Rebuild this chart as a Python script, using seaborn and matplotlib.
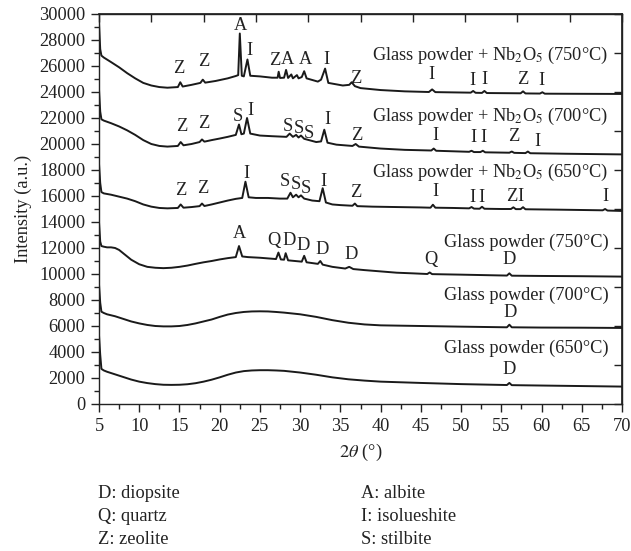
import numpy as np
import pandas as pd
import matplotlib
matplotlib.use("Agg")
import matplotlib.pyplot as plt
from matplotlib.ticker import MultipleLocator
import seaborn as sns

# ---------------- data ----------------
series_names = [
    "Glass powder + Nb$_2$O$_5$ (750°C)",
    "Glass powder + Nb$_2$O$_5$ (700°C)",
    "Glass powder + Nb$_2$O$_5$ (650°C)",
    "Glass powder (750°C)",
    "Glass powder (700°C)",
    "Glass powder (650°C)",
]

tt_nb750 = [5.0, 5.15, 5.3, 5.6, 6.5, 7.5, 8.5, 9.5, 10.5, 11.5, 12.5, 13.5, 14.8, 15.1, 15.4,
            16.5, 17.6, 17.9, 18.2, 19.5, 21.0, 22.0, 22.3, 22.5, 22.75, 23.0, 23.45, 23.8, 25.0,
            26.5, 27.2, 27.33, 27.5, 28.0, 28.25, 28.5, 28.9, 29.1, 29.6, 29.8, 30.2, 30.5, 30.8,
            32.2, 32.6, 33.1, 33.5, 35.3, 36.1, 36.4, 36.8, 37.5, 40.0, 43.0, 46.0, 46.4, 46.8,
            51.2, 51.5, 51.8, 52.6, 52.9, 53.2, 57.4, 57.7, 58.0, 59.8, 60.1, 60.4, 65.0, 70.0]
I_nb750 = [29300, 27300, 26800, 26650, 26300, 25900, 25450, 25050, 24700, 24500, 24380, 24330, 24380, 24750, 24420,
           24550, 24700, 24950, 24720, 24850, 25050, 25230, 25300, 28500, 25250, 25200, 26500, 25250, 25200,
           25100, 25100, 25560, 25080, 25100, 25700, 25080, 25350, 25050, 25300, 25050, 25150, 25600, 25050,
           24800, 24950, 25800, 24700, 24500, 24550, 24750, 24450, 24300, 24150, 24050, 24000, 24200, 23990,
           23950, 24080, 23940, 23930, 24080, 23920, 23900, 24050, 23890, 23880, 23980, 23870, 23860, 23850]

tt_nb700 = [5.0, 5.15, 5.3, 5.6, 6.5, 7.5, 8.5, 9.5, 10.5, 11.5, 12.5, 13.5, 14.8, 15.15, 15.5,
            16.5, 17.5, 17.8, 18.1, 19.0, 20.0, 21.0, 22.0, 22.4, 22.7, 23.0, 23.4, 23.8, 25.0,
            26.5, 28.3, 28.7, 29.1, 29.5, 29.8, 30.1, 30.5, 32.0, 32.6, 33.0, 33.4, 34.5, 36.5,
            36.9, 37.3, 40.0, 43.0, 46.3, 46.6, 46.9, 51.0, 51.3, 51.6, 52.4, 52.7, 53.0, 56.0,
            56.3, 56.6, 58.0, 58.3, 58.6, 63.0, 70.0]
I_nb700 = [24200, 22500, 21900, 21800, 21600, 21350, 21050, 20700, 20300, 20000, 19850, 19800, 19850, 20150, 19900,
           20000, 20150, 20350, 20180, 20300, 20420, 20550, 20700, 21500, 20750, 20800, 22000, 20800, 20650,
           20600, 20550, 20800, 20550, 20700, 20500, 20650, 20400, 20150, 20200, 21100, 20100, 19950, 19850,
           20000, 19800, 19650, 19550, 19500, 19650, 19480, 19400, 19480, 19380, 19380, 19480, 19360, 19330,
           19420, 19320, 19300, 19420, 19290, 19250, 19200]

tt_nb650 = [5.0, 5.15, 5.3, 5.6, 6.5, 7.5, 8.5, 9.5, 10.5, 11.5, 12.5, 13.5, 14.8, 15.15, 15.5,
            16.5, 17.5, 17.8, 18.1, 19.0, 20.0, 21.0, 22.0, 22.8, 23.2, 23.6, 24.5, 26.0, 27.5,
            28.4, 28.8, 29.1, 29.5, 29.8, 30.1, 30.5, 31.5, 32.4, 32.8, 33.2, 34.0, 35.0, 36.5,
            36.8, 37.1, 39.0, 42.0, 45.0, 46.2, 46.5, 46.8, 49.0, 51.0, 51.3, 51.6, 52.3, 52.6,
            52.9, 55.0, 56.2, 56.5, 56.8, 57.4, 57.7, 58.0, 62.0, 67.6, 67.9, 68.2, 70.0]
I_nb650 = [18500, 17000, 16300, 16200, 16100, 15950, 15800, 15600, 15350, 15180, 15080, 15050, 15080, 15350, 15100,
           15150, 15220, 15420, 15230, 15350, 15500, 15650, 15780, 15850, 17100, 15900, 15850, 15850, 15800,
           15800, 16250, 15900, 16100, 15900, 16050, 15800, 15650, 15600, 16600, 15500, 15350, 15300, 15250,
           15420, 15220, 15180, 15150, 15120, 15100, 15330, 15100, 15080, 15050, 15150, 15030, 15020, 15170,
           15020, 15000, 15000, 15130, 14990, 14990, 15140, 14980, 14950, 14900, 15000, 14880, 14850]

tt_g750 = [5.0, 5.15, 5.3, 5.6, 6.0, 6.5, 7.0, 7.5, 8.0, 9.0, 10.0, 11.0, 12.0, 13.0, 14.0,
           15.0, 16.0, 17.0, 18.0, 19.0, 20.0, 21.0, 22.0, 22.4, 22.8, 23.5, 25.0, 26.0, 27.0,
           27.3, 27.6, 28.0, 28.2, 28.5, 30.2, 30.5, 30.8, 32.2, 32.5, 32.8, 34.0, 35.6, 36.1,
           36.6, 38.0, 40.0, 42.0, 44.0, 45.8, 46.1, 46.4, 50.0, 54.0, 55.7, 56.0, 56.3, 60.0,
           65.0, 70.0]
I_g750 = [14000, 12500, 12150, 12100, 12050, 12050, 12000, 11850, 11600, 11100, 10750, 10550, 10480, 10450, 10480,
          10550, 10650, 10780, 10900, 11000, 11120, 11220, 11300, 12150, 11350, 11300, 11250, 11200, 11150,
          11650, 11120, 11100, 11600, 11050, 10950, 11400, 10900, 10780, 11000, 10720, 10550, 10420, 10550,
          10380, 10300, 10200, 10100, 10050, 10000, 10120, 9990, 9950, 9900, 9880, 10050, 9870, 9850,
          9830, 9800]

tt_g700 = [5.0, 5.15, 5.3, 5.6, 6.0, 7.0, 8.0, 9.0, 10.0, 11.0, 12.0, 13.0, 14.0, 15.0, 16.0,
           17.0, 18.0, 19.0, 20.0, 21.0, 22.0, 23.0, 24.0, 25.0, 26.0, 27.0, 28.0, 30.0, 32.0,
           34.0, 36.0, 38.0, 40.0, 45.0, 50.0, 55.7, 56.0, 56.3, 60.0, 65.0, 70.0]
I_g700 = [9200, 7800, 7100, 7000, 6900, 6750, 6550, 6350, 6200, 6080, 6000, 5970, 5970, 6000, 6080,
          6200, 6350, 6500, 6700, 6880, 7000, 7080, 7120, 7130, 7120, 7080, 7030, 6900, 6700,
          6450, 6250, 6120, 6050, 6000, 5950, 5900, 6100, 5900, 5880, 5870, 5850]

tt_g650 = [5.0, 5.15, 5.3, 5.6, 6.0, 7.0, 8.0, 9.0, 10.0, 11.0, 12.0, 13.0, 14.0, 15.0, 16.0,
           17.0, 18.0, 19.0, 20.0, 21.0, 22.0, 23.0, 24.0, 25.0, 26.0, 27.0, 28.0, 30.0, 32.0,
           34.0, 36.0, 38.0, 40.0, 45.0, 50.0, 55.7, 56.0, 56.3, 60.0, 65.0, 70.0]
I_g650 = [5300, 3800, 2700, 2580, 2480, 2280, 2080, 1880, 1720, 1610, 1530, 1480, 1470, 1480, 1520,
          1600, 1720, 1870, 2050, 2250, 2420, 2530, 2580, 2600, 2600, 2580, 2550, 2420, 2250,
          2050, 1900, 1800, 1720, 1620, 1530, 1460, 1620, 1450, 1420, 1380, 1340]

curve_tt = [tt_nb750, tt_nb700, tt_nb650, tt_g750, tt_g700, tt_g650]
curve_I = [I_nb750, I_nb700, I_nb650, I_g750, I_g700, I_g650]

# curve name label positions (right edge 2theta, baseline intensity)
name_x = 68.3
name_y = [26460, 21750, 17490, 12050, 8000, 3950]

# phase markers: letter, 2theta, intensity (centre of letter)
peak_letters = ["Z", "Z", "A", "I", "Z", "A", "A", "I", "Z", "I", "I", "I", "Z", "I",
                "Z", "Z", "S", "I", "S", "S", "S", "I", "Z", "I", "I", "I", "Z", "I",
                "Z", "Z", "I", "S", "S", "S", "I", "Z", "I", "I", "I", "Z", "I", "I",
                "A", "Q", "D", "D", "D", "D", "Q", "D",
                "D",
                "D"]
peak_tt = [14.86, 17.99, 22.52, 23.68, 26.87, 28.45, 30.69, 33.30, 36.94, 46.35, 51.45, 52.89, 57.66, 60.02,
           15.28, 17.96, 22.24, 23.85, 28.53, 29.89, 31.14, 33.42, 37.03, 46.76, 51.52, 52.76, 56.49, 59.47,
           15.15, 17.84, 23.36, 28.12, 29.45, 30.73, 32.88, 36.88, 46.76, 51.45, 52.56, 56.29, 57.32, 67.89,
           22.44, 26.79, 28.65, 30.39, 32.68, 36.36, 46.23, 56.0,
           56.08,
           56.0]
peak_I = [25820, 26380, 29150, 27230, 26460, 26510, 26510, 26510, 25050, 25310, 24920, 24980, 24980, 24920,
          21330, 21540, 22100, 22610, 21380, 21210, 20820, 21900, 20650, 20620, 20510, 20510, 20560, 20180,
          16460, 16590, 17750, 17100, 16920, 16590, 17100, 16290, 16330, 15900, 15900, 15950, 15950, 15950,
          13130, 12560, 12560, 12230, 11900, 11500, 11130, 11080,
          7020,
          2620]

legend_left = ["D: diopsite", "Q: quartz", "Z: zeolite"]
legend_right = ["A: albite", "I: isolueshite", "S: stilbite"]

x_ticks = list(range(5, 75, 5))
y_ticks = list(range(0, 32000, 2000))

# ---------------- plotting ----------------
sns.set_theme(style="ticks")
plt.rcParams["font.family"] = ["Liberation Serif", "DejaVu Serif"]
plt.rcParams["mathtext.fontset"] = "stix"
FS = 13.2
INK = "#222222"

fig = plt.figure(figsize=(6.31, 5.51), dpi=100)
ax = fig.add_axes([99 / 631, 1 - 404 / 551, 523 / 631, 390 / 551])

for tt, ii in zip(curve_tt, curve_I):
    df = pd.DataFrame({"tt": tt, "I": ii})
    sns.lineplot(data=df, x="tt", y="I", ax=ax, color="#1a1a1a", lw=1.4,
                 estimator=None, sort=False, legend=False)

for name, yb in zip(series_names, name_y):
    ax.text(name_x, yb, name, ha="right", va="baseline", fontsize=FS, color=INK)

for lt, px_, py_ in zip(peak_letters, peak_tt, peak_I):
    ax.text(px_, py_, lt, ha="center", va="center", fontsize=FS, color=INK)

ax.set_xlim(5, 70)
ax.set_ylim(0, 30000)
ax.set_xticks(x_ticks)
ax.set_yticks(y_ticks)
ax.xaxis.set_minor_locator(MultipleLocator(2.5))
ax.yaxis.set_minor_locator(MultipleLocator(1000))
ax.tick_params(axis="both", which="major", direction="out", length=6, width=1,
               labelsize=FS, colors=INK, pad=4)
ax.tick_params(axis="both", which="minor", direction="out", length=3.5, width=1, colors=INK)
ax.set_xlabel(r"$2\theta$ (°)", fontsize=FS, color=INK, labelpad=5)
ax.set_ylabel("Intensity (a.u.)", fontsize=FS, color=INK, labelpad=5)
for sp in ax.spines.values():
    sp.set_visible(True)
    sp.set_color(INK)
    sp.set_linewidth(1.0)

# mirrored top/right axes with 10 inward divisions
top = ax.secondary_xaxis("top")
top.set_xticks(list(np.linspace(5, 70, 11)))
top.tick_params(direction="in", length=6, width=1, labeltop=False, colors=INK)
top.spines["top"].set_color(INK)
right = ax.secondary_yaxis("right")
right.set_yticks(list(np.linspace(0, 30000, 11)))
right.tick_params(direction="in", length=6, width=1, labelright=False, colors=INK)
right.spines["right"].set_color(INK)

for i, t in enumerate(legend_left):
    fig.text(98 / 631, 1 - (493 + 23.5 * i) / 551, t, ha="left", va="center", fontsize=FS, color=INK)
for i, t in enumerate(legend_right):
    fig.text(361 / 631, 1 - (493 + 23.5 * i) / 551, t, ha="left", va="center", fontsize=FS, color=INK)

fig.savefig("out.png", dpi=100)
